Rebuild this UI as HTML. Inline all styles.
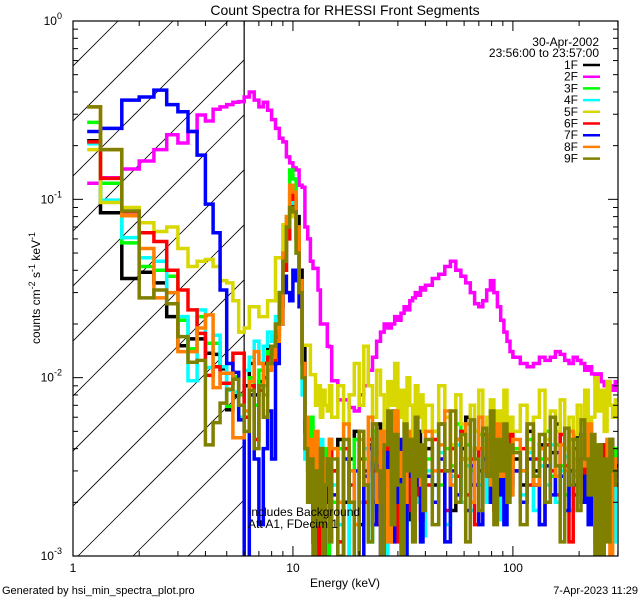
<!DOCTYPE html>
<html><head><meta charset="utf-8"><style>
html,body{margin:0;padding:0;background:#fff;}
svg{display:block;font-family:"Liberation Sans",sans-serif;}
</style></head><body>
<svg id="chart" width="640" height="600" viewBox="0 0 640 600">
<text x="345" y="15" text-anchor="middle" font-size="14">Count Spectra for RHESSI Front Segments</text>
<g id="plot"></g>
</svg>
<script>
// ---- data ----
const seriesNames = ["1F","2F","3F","4F","5F","6F","7F","8F","9F"];
const seriesColors = ["#000000","#ff00ff","#00ff00","#00ffff","#d8d800","#ff0000","#0000ff","#ff8000","#808000"];
const xTickLabels = ["1","10","100"];
const yTickExps = ["0","-1","-2","-3"];
const s1F = [0.213,0.084,0.036,0.039,0.034,0.022,0.0151,0.0165,0.0165,0.0137,0.0135,0.0112,0.0066,0.0079,0.007,0.009,0.012,0.008,0.0095,0.012,0.015,0.013,0.018,0.025,0.04,0.07,0.09,0.1,0.08,0.04,0.015,0.006,0.004,0.005,0.003,0.0045,0.002,0.004,0.003,0.0025,0.0035,0.002,
0.003,0.0045,0.002,0.0035,0.005,0.0015,0.003,0.0042,0.002,0.0055,0.003,0.0012,0.004,0.0028,0.0065,0.003,0.002,0.0045,0.0035,0.0016,0.004,0.003,0.005,0.0022,0.0035,
0.004,0.0025,0.0055,0.003,0.0018,0.0045,0.0035,0.006,0.0025,0.004,0.003,0.0048,0.002,0.0038,0.0052,0.0028,0.0035,0.0022,0.0045,0.003,
0.0035,0.0025,0.005,0.003,0.0042,0.002,0.0038,0.0055,0.0028,0.004,0.003,0.0022,0.0048,0.0035,0.0026,0.0045,0.003,0.0038,0.002,0.0042,0.0032,0.0024,0.0045,0.0035,0.0028];
const s2F = [0.123,0.132,0.148,0.164,0.19,0.23,0.207,0.24,0.297,0.275,0.32,0.33,0.34,0.35,0.353,0.375,0.4,0.36,0.33,0.35,0.316,0.28,0.25,0.22,0.21,0.173,0.16,0.15,0.146,0.12,0.117,0.07,0.06,0.045,0.041,0.041,0.031,0.02,0.02,0.02,0.015,0.0149,
0.0096,0.0075,0.0075,0.0068,0.0065,0.008,0.009,0.011,0.013,0.016,0.018,0.02,0.019,0.02,0.022,0.021,0.023,0.025,0.024,0.027,0.028,0.03,0.029,0.032,0.031,
0.033,0.036,0.038,0.042,0.045,0.04,0.037,0.034,0.03,0.026,0.025,0.027,0.031,0.035,0.03,0.025,0.021,0.018,0.016,0.014,
0.013,0.012,0.0115,0.012,0.013,0.0125,0.013,0.014,0.0135,0.0125,0.012,0.013,0.0125,0.012,0.011,0.0115,0.0105,0.01,0.0105,0.0095,0.009,0.0095,0.009,0.0085,0.0095];
const s3F = [0.27,0.123,0.057,0.042,0.04,0.037,0.021,0.0145,0.022,0.0156,0.0156,0.0115,0.0069,0.0101,0.008,0.006,0.01,0.007,0.011,0.009,0.014,0.012,0.02,0.03,0.05,0.08,0.146,0.13,0.07,0.03,0.01,0.004,0.003,0.006,0.002,0.004,0.0015,0.0035,0.0025,0.004,0.0009,0.003,
0.002,0.004,0.0009,0.003,0.0045,0.002,0.0035,0.0012,0.005,0.0025,0.0035,0.0008,0.004,0.003,0.0055,0.002,0.0038,0.0015,0.0045,0.003,0.002,0.005,0.0028,0.0035,0.0018,
0.0035,0.005,0.0025,0.004,0.0032,0.0055,0.002,0.0042,0.003,0.0025,0.0048,0.0036,0.0022,0.004,0.0055,0.003,0.0045,0.0025,0.0038,0.0032,
0.004,0.003,0.0045,0.0025,0.0035,0.005,0.0028,0.0042,0.0032,0.0022,0.0045,0.003,0.0038,0.0025,0.0048,0.0035,0.0028,0.0042,0.003,0.0036,0.0024,0.0045,0.0032,0.0028,0.004];
const s4F = [0.205,0.099,0.061,0.047,0.045,0.03,0.022,0.0096,0.024,0.0114,0.0173,0.0115,0.0085,0.0083,0.006,0.011,0.013,0.016,0.012,0.015,0.018,0.016,0.022,0.03,0.045,0.065,0.1,0.095,0.05,0.025,0.008,0.0035,0.002,0.004,0.0012,0.003,0.002,0.0045,0.0018,0.003,0.0025,0.0012,
0.0025,0.0015,0.0035,0.0009,0.003,0.002,0.004,0.0012,0.0028,0.0018,0.0035,0.001,0.0025,0.004,0.0015,0.003,0.0022,0.0009,0.0035,0.0025,0.0015,0.004,0.002,0.003,0.0013,
0.003,0.002,0.0038,0.0015,0.0028,0.0042,0.002,0.0032,0.0018,0.0035,0.0025,0.0045,0.002,0.003,0.0038,0.0016,0.0032,0.0024,0.004,0.0022,
0.003,0.0022,0.0038,0.0018,0.0032,0.0025,0.0042,0.002,0.003,0.0036,0.0018,0.0028,0.0045,0.0025,0.0032,0.002,0.0038,0.0028,0.0022,0.0035,0.0016,0.003,0.0025,0.0012,0.0028];
const s5F = [0.19,0.096,0.09,0.074,0.066,0.07,0.053,0.042,0.045,0.046,0.042,0.035,0.034,0.027,0.018,0.019,0.025,0.025,0.022,0.022,0.027,0.027,0.047,0.047,0.072,0.072,0.09,0.08,0.05,0.03,0.0152,0.0152,0.0152,0.0104,0.0104,0.007,0.009,0.006,0.0085,0.007,0.0065,0.009,
0.006,0.009,0.0055,0.008,0.012,0.007,0.015,0.009,0.006,0.011,0.008,0.005,0.0095,0.007,0.012,0.006,0.0085,0.005,0.01,0.007,0.0045,0.009,0.006,0.008,0.005,
0.007,0.005,0.009,0.006,0.0042,0.008,0.0055,0.0035,0.007,0.005,0.0085,0.004,0.006,0.0075,0.0045,0.0065,0.005,0.0085,0.004,0.006,
0.005,0.007,0.004,0.006,0.0085,0.0045,0.0065,0.005,0.0075,0.004,0.006,0.0048,0.007,0.0055,0.0085,0.004,0.006,0.01,0.0065,0.0085,0.005,0.0095,0.007,0.006,0.0075];
const s6F = [0.21,0.131,0.085,0.065,0.058,0.04,0.031,0.024,0.0177,0.0103,0.0115,0.0093,0.0093,0.0137,0.0137,0.006,0.009,0.0045,0.0085,0.01,0.013,0.012,0.017,0.025,0.04,0.06,0.11,0.1,0.06,0.03,0.012,0.005,0.002,0.003,0.0015,0.004,0.0008,0.0035,0.002,0.003,0.0025,0.0045,
0.003,0.0012,0.004,0.0025,0.0009,0.0035,0.002,0.0045,0.003,0.0015,0.0038,0.0025,0.0055,0.002,0.0032,0.0012,0.004,0.0028,0.0018,0.0045,0.003,0.0022,0.004,0.0016,0.0035,
0.0025,0.0045,0.003,0.0018,0.004,0.0028,0.005,0.0022,0.0035,0.0015,0.004,0.003,0.0045,0.0025,0.0018,0.0042,0.003,0.0035,0.0022,0.0048,
0.003,0.004,0.0025,0.0035,0.0015,0.0042,0.003,0.0022,0.0048,0.0032,0.0012,0.004,0.0028,0.0035,0.0022,0.0045,0.003,0.0018,0.0038,0.0026,0.0042,0.003,0.0035,0.0025,0.0032];
const s7F = [0.24,0.25,0.36,0.375,0.41,0.34,0.31,0.24,0.177,0.094,0.065,0.031,0.012,0.0107,0.0058,0.0005,0.008,0.0035,0.0015,0.004,0.0065,0.0035,0.012,0.02,0.037,0.03,0.027,0.04,0.035,0.025,0.012,0.005,0.003,0.0035,0.0012,0.004,0.002,0.003,0.0009,0.0035,0.002,0.0028,
0.0022,0.0008,0.0035,0.002,0.003,0.0006,0.0028,0.004,0.0015,0.0032,0.0009,0.0025,0.0038,0.0012,0.003,0.002,0.0045,0.0008,0.0028,0.0035,0.0018,0.003,0.0025,0.0012,0.0032,
0.0028,0.002,0.0035,0.0012,0.003,0.0022,0.004,0.0018,0.0032,0.0025,0.0015,0.0035,0.0028,0.002,0.0038,0.0022,0.003,0.0015,0.0035,0.0025,
0.003,0.002,0.0035,0.0025,0.0015,0.0032,0.0022,0.0038,0.0028,0.0018,0.003,0.0025,0.0035,0.002,0.0028,0.0015,0.0032,0.0024,0.003,0.0018,0.0035,0.0022,0.0028,0.0025,0.0032];
const s8F = [0.33,0.19,0.081,0.053,0.028,0.03,0.014,0.014,0.019,0.0225,0.0088,0.0106,0.0106,0.0046,0.0046,0.0065,0.0095,0.014,0.012,0.008,0.011,0.013,0.016,0.02,0.05,0.08,0.12,0.11,0.07,0.035,0.012,0.006,0.003,0.0045,0.002,0.005,0.0025,0.004,0.0015,0.0035,0.003,0.0045,
0.004,0.002,0.0055,0.003,0.0015,0.0045,0.0025,0.006,0.0035,0.002,0.005,0.003,0.0012,0.0042,0.0065,0.0028,0.0038,0.002,0.005,0.0032,0.0022,0.0048,0.0035,0.0025,0.004,
0.005,0.003,0.0042,0.0065,0.0025,0.0045,0.0035,0.0055,0.002,0.004,0.006,0.003,0.0048,0.0025,0.0038,0.0055,0.0028,0.0045,0.0035,0.0022,
0.0045,0.003,0.0055,0.0025,0.004,0.0035,0.006,0.0028,0.0042,0.003,0.005,0.0035,0.0022,0.0045,0.0032,0.0055,0.0025,0.0012,0.0038,0.0009,0.003,0.0045,0.0008,0.0035,0.0025];
const s9F = [0.33,0.19,0.086,0.028,0.031,0.026,0.017,0.0122,0.0125,0.0042,0.0056,0.0072,0.0086,0.0098,0.007,0.005,0.0085,0.004,0.009,0.006,0.012,0.015,0.02,0.03,0.045,0.07,0.09,0.085,0.05,0.03,0.01,0.004,0.002,0.0035,0.001,0.003,0.0015,0.004,0.0009,0.0025,0.0035,0.0012,
0.0035,0.001,0.0045,0.002,0.0008,0.005,0.0025,0.0012,0.0055,0.003,0.0009,0.0042,0.0065,0.0015,0.0048,0.0025,0.0008,0.0055,0.003,0.0045,0.0012,0.006,0.0028,0.0042,0.0018,
0.0045,0.0015,0.0055,0.003,0.0065,0.002,0.0048,0.0012,0.0058,0.0035,0.0018,0.0052,0.0028,0.0065,0.0015,0.0045,0.003,0.0055,0.002,0.0042,
0.0038,0.0015,0.0055,0.0028,0.0048,0.002,0.006,0.0032,0.0012,0.0052,0.0025,0.0045,0.0018,0.0058,0.0035,0.0022,0.0048,0.0009,0.0042,0.0008,0.0035,0.0012,0.0045,0.003,0.0025];
const seriesValues = [s1F,s2F,s3F,s4F,s5F,s6F,s7F,s8F,s9F];

// energy bin edges (keV): RHESSI-style binning
const edges = [1.16];
for (let k = 4; k <= 45; k++) edges.push(k/3);
for (let e = 16; e <= 40; e++) edges.push(e);
for (let e = 43; e <= 100; e += 3) edges.push(e);
for (let e = 108; e <= 300; e += 8) edges.push(e);

// ---- axes ----
const L = 73, R = 618, T = 21, B = 556;
const xMin = 0, xMax = Math.log10(300.5);
const yMin = -3, yMax = 0;
const X = e => L + (Math.log10(e) - xMin) / (xMax - xMin) * (R - L);
const Y = v => B - (Math.log10(v) - yMin) / (yMax - yMin) * (B - T);
const NS = "http://www.w3.org/2000/svg";
const plot = document.getElementById('plot');
function mk(tag, attrs, parent) {
  const el = document.createElementNS(NS, tag);
  for (const k in attrs) el.setAttribute(k, attrs[k]);
  (parent || plot).appendChild(el);
  return el;
}
const defs = mk('defs', {});
const cp = mk('clipPath', {id: 'pclip'}, defs);
mk('rect', {x: L, y: T, width: R - L, height: B - T}, cp);
const hp = mk('clipPath', {id: 'hclip'}, defs);
mk('rect', {x: L, y: T, width: X(6) - L, height: B - T}, hp);

// hatched attenuator region
const hatch = mk('g', {'clip-path': 'url(#hclip)', stroke: '#000', 'stroke-width': 0.8});


for (let x0 = L - 600; x0 < R; x0 += 55) {
  mk('line', {x1: x0, y1: B, x2: x0 + (B - T), y2: T}, hatch);
}
const vline = mk('line', {x1: X(6), y1: T, x2: X(6), y2: B, stroke: '#000', 'stroke-width': 1.2});



// series
const sg = mk('g', {'clip-path': 'url(#pclip)'});
seriesValues.forEach((vals, i) => {
  let d = '';
  vals.forEach((v, j) => {
    const vv = Math.max(v, 0.0005);
    const y = Y(vv).toFixed(1);
    const x0 = X(edges[j]).toFixed(1), x1 = X(edges[j + 1]).toFixed(1);
    d += (j === 0 ? 'M' : 'L') + x0 + ',' + y + 'L' + x1 + ',' + y;
  });
  const p = mk('path', {d: d, fill: 'none', stroke: seriesColors[i], 'stroke-width': 3.5, 'stroke-linejoin': 'miter'}, sg);
  
  
});

// frame
const frame = mk('rect', {x: L, y: T, width: R - L, height: B - T, fill: 'none', stroke: '#000', 'stroke-width': 1.2});



// x ticks
const xt = mk('g', {stroke: '#000', 'stroke-width': 1});


for (let dec = 1; dec <= 100; dec *= 10) {
  for (let m = 1; m <= 9; m++) {
    const e = dec * m;
    if (e > 300) break;
    const x = X(e), len = m === 1 ? 10 : 5;
    mk('line', {x1: x, y1: B, x2: x, y2: B - len}, xt);
    mk('line', {x1: x, y1: T, x2: x, y2: T + len}, xt);
  }
}
xTickLabels.forEach(t => {
  const tx = mk('text', {x: X(+t), y: 572, 'text-anchor': 'middle', 'font-size': 12});
  tx.textContent = t;
  
  
});
// y ticks
const yt = mk('g', {stroke: '#000', 'stroke-width': 1});


for (let p = -3; p < 0; p++) {
  for (let m = 1; m <= 9; m++) {
    const y = Y(m * Math.pow(10, p)), len = m === 1 ? 10 : 5;
    mk('line', {x1: L, y1: y, x2: L + len, y2: y}, yt);
    mk('line', {x1: R, y1: y, x2: R - len, y2: y}, yt);
  }
}
yTickExps.forEach(ex => {
  const tx = mk('text', {x: 62, y: Y(Math.pow(10, +ex)) + 4, 'text-anchor': 'end', 'font-size': 12});
  
  
  tx.appendChild(document.createTextNode('10'));
  const sup = mk('tspan', {dy: -6, 'font-size': 9}, tx);
  sup.textContent = ex;
});

// axis titles
const xtitle = mk('text', {x: 345, y: 587, 'text-anchor': 'middle', 'font-size': 12});
xtitle.textContent = 'Energy (keV)';


const ytitle = mk('text', {x: 0, y: 0, 'text-anchor': 'middle', 'font-size': 12, transform: 'translate(40,288) rotate(-90)'});


ytitle.innerHTML = 'counts cm<tspan dy="-5" font-size="9">-2</tspan><tspan dy="5"> s</tspan><tspan dy="-5" font-size="9">-1</tspan><tspan dy="5"> keV</tspan><tspan dy="-5" font-size="9">-1</tspan>';

// annotations
[['Includes Background', 516], ['Att A1, FDecim 1', 528]].forEach((a, i) => {
  const t = mk('text', {x: 248, y: a[1], 'font-size': 12});
  t.textContent = a[0];
  
  
});

// legend
const lg = mk('g', {});


const d1 = mk('text', {x: 599, y: 46, 'text-anchor': 'end', 'font-size': 12}, lg);
d1.textContent = '30-Apr-2002';


const d2 = mk('text', {x: 599, y: 57, 'text-anchor': 'end', 'font-size': 12}, lg);
d2.textContent = '23:56:00 to 23:57:00';


seriesNames.forEach((n, i) => {
  const y = 65 + i * 11.7;
  const t = mk('text', {x: 578, y: y + 4, 'text-anchor': 'end', 'font-size': 12}, lg);
  t.textContent = n;
  
  
  const ln = mk('line', {x1: 583, y1: y, x2: 600, y2: y, stroke: seriesColors[i], 'stroke-width': 2.5}, lg);
  
  
});

// footer
const f1 = mk('text', {x: 2, y: 594, 'font-size': 11});
f1.textContent = 'Generated by hsi_min_spectra_plot.pro';


const f2 = mk('text', {x: 638, y: 594, 'text-anchor': 'end', 'font-size': 11});
f2.textContent = '7-Apr-2023 11:29';


</script>
</body></html>
